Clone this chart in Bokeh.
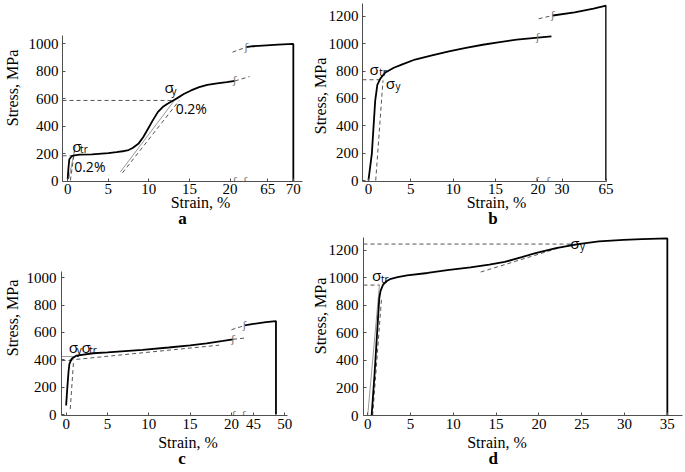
from bokeh.plotting import figure
from bokeh.layouts import column, row
from bokeh.models import FixedTicker, Range1d, LinearAxis
from bokeh.core.properties import value
from bokeh.embed import file_html
from bokeh.resources import INLINE

# ---------------- data (strain %, stress MPa) ----------------
# panel a
a_lo_strain = [0.0, 0.1, 0.2, 0.5, 0.8, 1.5, 3.0, 5.0, 6.0, 7.0, 7.5, 8.0, 8.7, 9.3, 9.9, 10.5,
               11.1, 11.7, 12.3, 13.0, 13.5, 14.3, 15.2, 16.2, 17.2, 18.4, 19.6, 20.6]
a_lo_stress = [15, 100, 160, 182, 188, 193, 196, 205, 212, 220, 227, 242, 272, 320, 382, 445,
               503, 540, 564, 588, 605, 635, 661, 685, 702, 713, 722, 730]
a_lo_ext_strain = [20.6, 22.4]
a_lo_ext_stress = [730, 762]
a_hi_lead_strain = [58.1, 60.8]
a_hi_lead_stress = [940, 976]
a_hi_strain = [60.8, 62.1, 64.0, 67.0, 70.0, 70.0]
a_hi_stress = [976, 983, 988, 995, 1000, 0]
a_xticks_lo = [0, 5, 10, 15, 20]
a_xticks_hi = [65, 70]
a_yticks = [0, 200, 400, 600, 800, 1000]
a_sig_tr = 185
a_sig_y = 588
a_el_x, a_el_y = [0.15, 0.95], [20, 255]
a_off_x, a_off_y = [0.33, 0.85], [5, 225]
a_tan_x, a_tan_y = [6.47, 13.3], [66, 600]
a_off2_x, a_off2_y = [6.75, 13.75], [61, 588]

# panel b
b_lo_strain = [0.0, 0.4, 0.8, 1.05, 1.4, 2.0, 3.0, 4.0, 5.5, 7.5, 9.5, 11.5, 13.5, 15.5, 17.5, 20.0, 21.6]
b_lo_stress = [0, 195, 585, 700, 745, 790, 825, 850, 885, 915, 945, 970, 993, 1012, 1030, 1045, 1054]
b_hi_lead_strain = [11.4, 22.7]
b_hi_lead_stress = [1183, 1207]
b_hi_strain = [22.7, 40.0, 55.0, 65.0, 65.0]
b_hi_stress = [1207, 1230, 1258, 1280, 0]
b_xticks_lo = [0, 5, 10, 15, 20]
b_xticks_hi = [30, 65]
b_yticks = [0, 200, 400, 600, 800, 1000, 1200]
b_sig_tr = 737
b_el_x, b_el_y = [0.86, 1.72], [0, 732]

# panel c
c_lo_strain = [0.0, 0.15, 0.3, 0.4, 0.67, 1.27, 3.26, 5.0, 9.24, 12.4, 15.0, 17.0, 19.0, 20.2]
c_lo_stress = [66, 200, 320, 371, 407, 431, 448, 455, 473, 490, 505, 520, 538, 550]
c_lo_ext_strain = [20.2, 21.8]
c_lo_ext_stress = [550, 560]
c_hi_lead_strain = [41.5, 43.6]
c_hi_lead_stress = [620, 651]
c_hi_strain = [43.6, 45.0, 47.0, 48.6, 48.6]
c_hi_stress = [651, 662, 675, 683, 0]
c_xticks_lo = [0, 5, 10, 15, 20]
c_xticks_hi = [45, 50]
c_yticks = [0, 200, 400, 600, 800, 1000]
c_sig_y = 395
c_sig_tr = 424
c_fit_x, c_fit_y = [0.4, 18.5], [398, 507]
c_el_x, c_el_y = [0.5, 0.9], [40, 390]

# panel d
d_strain = [0.46, 0.8, 1.1, 1.35, 1.5, 1.8, 2.2, 2.6, 3.5, 4.6, 7.0, 9.3, 12.0, 14.2, 16.0, 18.0,
            19.6, 22.0, 24.6, 27.0, 29.9, 32.0, 35.0, 35.0]
d_stress = [0, 300, 600, 850, 905, 950, 975, 990, 1005, 1017, 1035, 1055, 1075, 1095, 1115, 1150,
            1180, 1215, 1245, 1265, 1276, 1281, 1286, 0]
d_xticks = [0, 5, 10, 15, 20, 25, 30, 35]
d_yticks = [0, 200, 400, 600, 800, 1000, 1200]
d_sig_tr = 947
d_sig_y = 1245
d_el_x, d_el_y = [0.0, 1.37], [0, 947]
d_off_x, d_off_y = [0.58, 1.62], [0, 855]
d_fit_x, d_fit_y = [13.2, 23.8], [1042, 1245]

# ---------------- styling helpers ----------------
SERIF = "Liberation Serif"
SANS = "Open Sans"
CURVE = dict(line_color="black", line_width=1.8)
DASH = dict(line_color="#555555", line_width=1, line_dash="4 3")
THIN = dict(line_color="#999999", line_width=1)
NB = "\u00a0"


def seg2(vals, s0, d0, k):
    return [d0 + (v - s0) * k for v in vals]


def style_axis(ax, standoff):
    ax.axis_line_color = "#505050"
    ax.major_tick_line_color = "#505050"
    ax.major_tick_in = 3
    ax.major_tick_out = 0
    ax.minor_tick_line_color = None
    ax.major_label_text_font = SERIF
    ax.major_label_text_font_size = "15px"
    ax.major_label_text_color = "black"
    ax.major_label_standoff = standoff


def label_axis(p, text, side, standoff, size, lead=0, trail=0, bold=False):
    ax = LinearAxis(ticker=FixedTicker(ticks=[]),
                    axis_line_color=None, major_tick_in=0, major_tick_out=0,
                    minor_tick_in=0, minor_tick_out=0, major_label_standoff=0,
                    axis_label=NB * lead + text + NB * trail, axis_label_standoff=standoff,
                    axis_label_text_font=SERIF, axis_label_text_font_size=size,
                    axis_label_text_font_style="bold" if bold else "normal",
                    axis_label_text_color="black")
    p.add_layout(ax, side)


def make_fig(w, h, bl, br, bt, bb, xr, yr, xticks, xlabels, yticks,
             xbounds, ybounds, xstand, ystand):
    p = figure(width=w, height=h, output_backend="svg", toolbar_location=None,
               x_range=Range1d(*xr), y_range=Range1d(*yr),
               min_border_left=bl, min_border_right=br, min_border_top=bt, min_border_bottom=bb)
    p.outline_line_color = None
    p.grid.visible = False
    p.background_fill_color = "white"
    p.border_fill_color = "white"
    pos = [round(t, 4) for t in xticks]
    p.xaxis.ticker = FixedTicker(ticks=pos)
    p.xaxis.major_label_overrides = {t: str(l) for t, l in zip(pos, xlabels)}
    p.yaxis.ticker = FixedTicker(ticks=yticks)
    style_axis(p.xaxis[0], xstand)
    style_axis(p.yaxis[0], ystand)
    p.xaxis.bounds = xbounds
    p.yaxis.bounds = ybounds
    return p


def sigma(p, x, y, sx, sy, sub):
    p.text(x=[x], y=[y], text=["σ"], text_font=value(SANS), text_font_size=value("15px"),
           text_align="center", text_baseline="middle", text_color="black")
    p.text(x=[sx], y=[sy], text=[sub], text_font=value(SANS), text_font_size=value("10px"),
           text_align="center", text_baseline="middle", text_color="black")


def note(p, x, y, t):
    p.text(x=[x], y=[y], text=[t], text_font=value(SANS), text_font_size=value("14px"),
           text_align="left", text_baseline="middle", text_color="black")


def squiggles(p, xs, ys):
    p.text(x=xs, y=ys, text=["ʃ"] * len(xs), text_font=value("DejaVu Sans"),
           text_font_size=value("11px"), text_align="center", text_baseline="middle",
           text_color="#777777")


# ---------------- panel a ----------------
A2 = dict(s0=65, d0=24.65, k=0.63)
ax0, ay0 = -0.64, -2.2
pa = make_fig(308, 232, 58, 6, 2, 51, (ax0, 28.93), (ay0, 1301.5),
              a_xticks_lo + seg2(a_xticks_hi, **A2), a_xticks_lo + a_xticks_hi, a_yticks,
              (ax0, 28.93), (ay0, 1061), 2, 4)
label_axis(pa, "Strain, %", "below", -3, "16px", lead=9)
label_axis(pa, "a", "below", -5, "17px", bold=True)
label_axis(pa, "Stress, MPa", "left", 5, "16px", lead=2)
pa.line([ax0, 0.6], [a_sig_tr, a_sig_tr], **DASH)
pa.line([ax0, 12.9], [a_sig_y, a_sig_y], **DASH)
pa.line(a_el_x, a_el_y, **THIN)
pa.line(a_off_x, a_off_y, **DASH)
pa.line(a_tan_x, a_tan_y, **THIN)
pa.line(a_off2_x, a_off2_y, **DASH)
pa.line(a_lo_strain, a_lo_stress, **CURVE)
pa.line(a_lo_ext_strain, a_lo_ext_stress, **DASH)
pa.line(seg2(a_hi_lead_strain, **A2), a_hi_lead_stress, **DASH)
pa.line(seg2(a_hi_strain, **A2), a_hi_stress, **CURVE)
squiggles(pa, [20.6, 21.9, 20.6, 22.0], [ay0, ay0, 730, 976])
sigma(pa, 1.13, 255, 2.0, 235, "tr")
note(pa, 0.8, 107, "0.2%")
sigma(pa, 12.5, 685, 13.1, 660, "y")
note(pa, 13.3, 527, "0.2%")

# ---------------- panel b ----------------
B2 = dict(s0=30, d0=22.85, k=0.1486)
bx0, by0 = -0.70, -7.3
pb = make_fig(377, 232, 52, 79, 2, 51, (bx0, 28.1), (by0, 1302),
              b_xticks_lo + seg2(b_xticks_hi, **B2), b_xticks_lo + b_xticks_hi, b_yticks,
              (bx0, 28.1), (by0, 1293), 2, 4)
label_axis(pb, "Strain, %", "below", -3, "16px", lead=6)
label_axis(pb, "b", "below", -5, "17px", lead=4, bold=True)
label_axis(pb, "Stress, MPa", "left", -3, "16px", trail=2)
pb.line([bx0, 1.6], [b_sig_tr, b_sig_tr], **DASH)
pb.line(b_el_x, b_el_y, **DASH)
pb.line(b_lo_strain, b_lo_stress, **CURVE)
pb.line(seg2(b_hi_lead_strain, **B2), b_hi_lead_stress, **DASH)
pb.line(seg2(b_hi_strain, **B2), b_hi_stress, **CURVE)
squiggles(pb, [19.9, 21.25, 20.0, 21.76], [by0, by0, 1049, 1207])
sigma(pb, 0.66, 812, 1.72, 793, "tr")
sigma(pb, 2.6, 712, 3.5, 693, "y")

# ---------------- panel c ----------------
C2 = dict(s0=45, d0=22.66, k=0.758)
cx0, cy0 = -0.56, -7.3
pc = make_fig(308, 240, 58, 6, 0, 57, (cx0, 28.6), (cy0, 1331),
              c_xticks_lo + seg2(c_xticks_hi, **C2), c_xticks_lo + c_xticks_hi, c_yticks,
              (cx0, 26.8), (cy0, 1048), 3, 5)
label_axis(pc, "Strain, %", "below", 2, "16px", lead=3)
label_axis(pc, "c", "below", -5, "17px", bold=True)
label_axis(pc, "Stress, MPa", "left", 3, "16px", lead=3)
pc.line([cx0, 0.7], [c_sig_y, c_sig_y], **DASH)
pc.line([cx0, 1.07], [c_sig_tr, c_sig_tr], **THIN)
pc.line(c_fit_x, c_fit_y, **DASH)
pc.line(c_el_x, c_el_y, **DASH)
pc.line(c_lo_strain, c_lo_stress, **CURVE)
pc.line(c_lo_ext_strain, c_lo_ext_stress, **DASH)
pc.line(seg2(c_hi_lead_strain, **C2), c_hi_lead_stress, **DASH)
pc.line(seg2(c_hi_strain, **C2), c_hi_stress, **CURVE)
squiggles(pc, [20.3, 21.5, 20.2, 21.6], [cy0, cy0, 550, 651])
sigma(pc, 0.88, 492, 1.6, 473, "y")
sigma(pc, 2.4, 492, 3.26, 473, "tr")

# ---------------- panel d ----------------
dx0, dy0 = -0.49, 0
pd_ = make_fig(377, 240, 52, 3, 0, 57, (dx0, 36.77), (dy0, 1329),
               d_xticks, d_xticks, d_yticks, (dx0, 36.77), (dy0, 1290), 3, 5)
label_axis(pd_, "Strain, %", "below", 2, "16px", trail=13)
label_axis(pd_, "d", "below", -5, "17px", trail=14, bold=True)
label_axis(pd_, "Stress, MPa", "left", -3, "16px", lead=4)
pd_.line([dx0, 23.8], [d_sig_y, d_sig_y], **DASH)
pd_.line([dx0, 1.43], [d_sig_tr, d_sig_tr], **DASH)
pd_.line(d_el_x, d_el_y, **THIN)
pd_.line(d_off_x, d_off_y, **DASH)
pd_.line(d_fit_x, d_fit_y, **DASH)
pd_.line(d_strain, d_stress, **CURVE)
sigma(pd_, 1.04, 1017, 2.0, 993, "tr")
sigma(pd_, 24.2, 1250, 25.1, 1232, "y")

layout = column(row(pa, pb), row(pc, pd_))
open("out.html", "w").write(file_html(layout, INLINE))
